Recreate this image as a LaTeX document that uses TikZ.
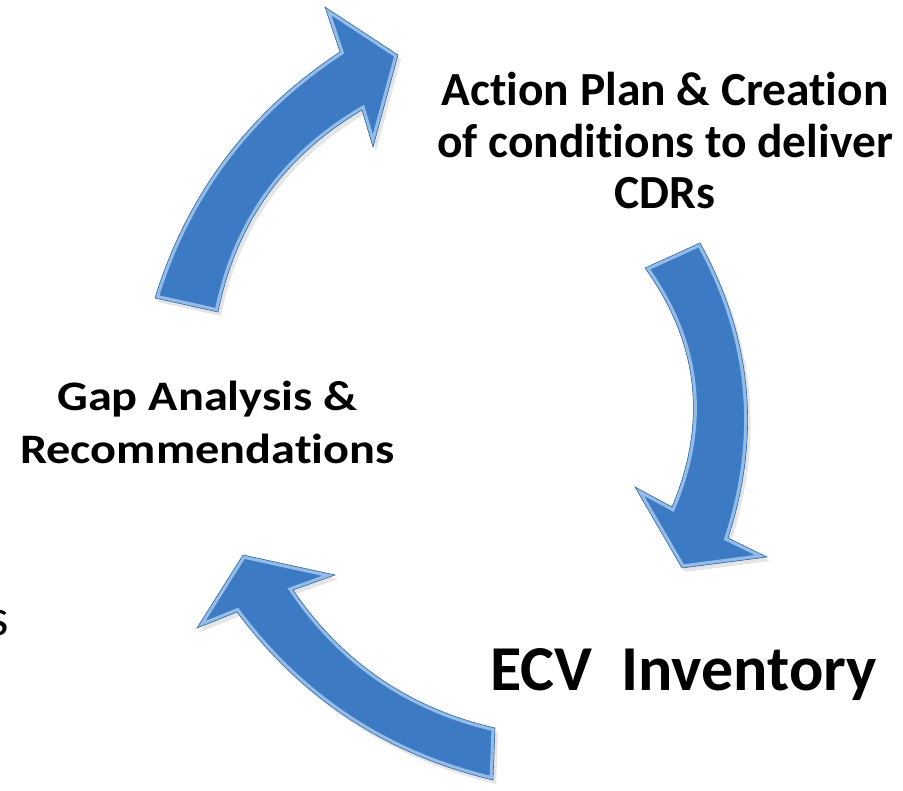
\documentclass[tikz,border=0pt]{standalone}
\usepackage{fontspec}
\setmainfont[Ligatures=NoCommon]{Carlito}
\definecolor{arrowblue}{RGB}{60,122,196}
\definecolor{arrowlight}{RGB}{205,232,253}
\definecolor{arrowdark}{RGB}{52,104,172}
\tikzset{
  arrowbody/.style={fill=arrowblue},
  arrowshadow/.style={fill=black, opacity=0.10},
  arrowglow/.style={draw=arrowlight, line width=7pt, opacity=0.6, line join=miter},
  arrowedge/.style={draw=arrowdark, line width=0.6pt, line join=miter},
  labeltext/.style={align=center, inner sep=0pt},
}
\begin{document}
\begin{tikzpicture}[x=1pt,y=-1pt]
\path[use as bounding box] (0,0) rectangle (903,791);

% ---- arrow 1 (left, up towards top right)
\fill[arrowshadow, shift={(3,4)}] (155,298) .. controls (187,194) and (249,112) .. (340,52) -- (325,7) -- (398,55) -- (373,147) -- (362,110) .. controls (284,156) and (236,223) .. (218,312) -- cycle;
\fill[arrowbody] (155,298) .. controls (187,194) and (249,112) .. (340,52) -- (325,7) -- (398,55) -- (373,147) -- (362,110) .. controls (284,156) and (236,223) .. (218,312) -- cycle;
\begin{scope}
\clip (155,298) .. controls (187,194) and (249,112) .. (340,52) -- (325,7) -- (398,55) -- (373,147) -- (362,110) .. controls (284,156) and (236,223) .. (218,312) -- cycle;
\draw[arrowglow] (155,298) .. controls (187,194) and (249,112) .. (340,52) -- (325,7) -- (398,55) -- (373,147) -- (362,110) .. controls (284,156) and (236,223) .. (218,312) -- cycle;
\end{scope}
\draw[arrowedge] (155,298) .. controls (187,194) and (249,112) .. (340,52) -- (325,7) -- (398,55) -- (373,147) -- (362,110) .. controls (284,156) and (236,223) .. (218,312) -- cycle;

% ---- arrow 2 (right, downwards)
\fill[arrowshadow, shift={(3,4)}] (700,243) .. controls (752,337) and (761.5,435.6) .. (728,538) -- (767,557) -- (682,568) -- (635,487) -- (672,507) .. controls (707.7,422.3) and (698.7,342.7) .. (645,268) -- cycle;
\fill[arrowbody] (700,243) .. controls (752,337) and (761.5,435.6) .. (728,538) -- (767,557) -- (682,568) -- (635,487) -- (672,507) .. controls (707.7,422.3) and (698.7,342.7) .. (645,268) -- cycle;
\begin{scope}
\clip (700,243) .. controls (752,337) and (761.5,435.6) .. (728,538) -- (767,557) -- (682,568) -- (635,487) -- (672,507) .. controls (707.7,422.3) and (698.7,342.7) .. (645,268) -- cycle;
\draw[arrowglow] (700,243) .. controls (752,337) and (761.5,435.6) .. (728,538) -- (767,557) -- (682,568) -- (635,487) -- (672,507) .. controls (707.7,422.3) and (698.7,342.7) .. (645,268) -- cycle;
\end{scope}
\draw[arrowedge] (700,243) .. controls (752,337) and (761.5,435.6) .. (728,538) -- (767,557) -- (682,568) -- (635,487) -- (672,507) .. controls (707.7,422.3) and (698.7,342.7) .. (645,268) -- cycle;

% ---- arrow 3 (bottom, up towards left)
\fill[arrowshadow, shift={(3,4)}] (495,728) .. controls (409.7,708.4) and (342.3,662.4) .. (293,590) -- (335,575) -- (243,555) -- (197,628) -- (237,612) .. controls (302,699) and (387.4,754.9) .. (493,780) -- cycle;
\fill[arrowbody] (495,728) .. controls (409.7,708.4) and (342.3,662.4) .. (293,590) -- (335,575) -- (243,555) -- (197,628) -- (237,612) .. controls (302,699) and (387.4,754.9) .. (493,780) -- cycle;
\begin{scope}
\clip (495,728) .. controls (409.7,708.4) and (342.3,662.4) .. (293,590) -- (335,575) -- (243,555) -- (197,628) -- (237,612) .. controls (302,699) and (387.4,754.9) .. (493,780) -- cycle;
\draw[arrowglow] (495,728) .. controls (409.7,708.4) and (342.3,662.4) .. (293,590) -- (335,575) -- (243,555) -- (197,628) -- (237,612) .. controls (302,699) and (387.4,754.9) .. (493,780) -- cycle;
\end{scope}
\draw[arrowedge] (495,728) .. controls (409.7,708.4) and (342.3,662.4) .. (293,590) -- (335,575) -- (243,555) -- (197,628) -- (237,612) .. controls (302,699) and (387.4,754.9) .. (493,780) -- cycle;

% ---- labels
\node[labeltext, font=\fontsize{47.5}{51.5}\selectfont\bfseries] (action) at (665,141) {Action Plan \& Creation\\of conditions to deliver\\CDRs};
\begin{scope}[shift={(207.5,422)}, xscale=1.15, transform shape]
\node[labeltext, font=\fontsize{42}{53}\selectfont\bfseries] (gap) at (0,0) {Gap Analysis \&\\Recommendations};
\end{scope}
\node[inner sep=0pt, anchor=base, font=\fontsize{64}{74}\selectfont\bfseries] (ecv) at (683.5,690) {ECV\ \ Inventory};
\node[inner sep=0pt, anchor=base east, font=\fontsize{52}{62}\selectfont] (cut) at (9,635) {s};
\end{tikzpicture}
\end{document}
